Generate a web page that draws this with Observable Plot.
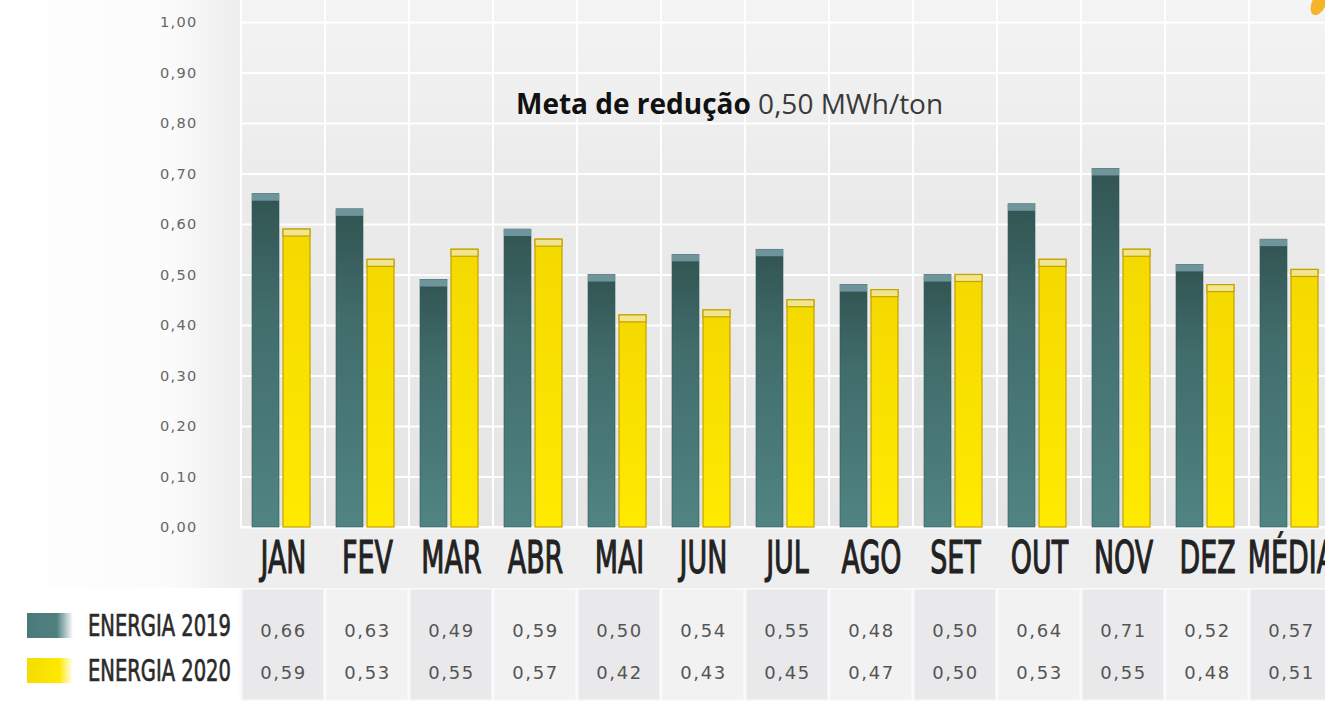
<!DOCTYPE html>
<html>
<head>
<meta charset="utf-8">
<script src="https://cdn.jsdelivr.net/npm/d3@7"></script>
<script src="https://cdn.jsdelivr.net/npm/@observablehq/plot@0.6"></script>
<style>
  html, body { margin: 0; padding: 0; background: #ffffff; }
  #wrap { position: relative; width: 1325px; height: 701px; overflow: hidden; background: #ffffff; }
  #chart svg { display: block; max-width: none !important; background: linear-gradient(to right, #ffffff 0px, #fbfbfb 170px, #eeeeee 235px); }
  #table svg { display: block; max-width: none !important; background: #ffffff; }
  #chart g[aria-label="y-axis tick label"] { letter-spacing: 1.3px; }
  #table g[aria-label="text"] { letter-spacing: 1.6px; }
  .note { position: absolute; left: 516px; top: 84px; font-family: "Open Sans", "Noto Sans", sans-serif; font-size: 28px; color: #3a3a3a; white-space: nowrap; }
  .note b { color: #111; font-weight: 700; }
  .legend { position: absolute; left: 27px; top: 0; font-family: "Liberation Sans Narrow", "DejaVu Sans Condensed", sans-serif; }
  .legend .row { position: absolute; left: 0; width: 240px; height: 26px; }
  .legend .sw { position: absolute; left: 0; top: 0; width: 46px; height: 25px; }
  .legend .lab { position: absolute; left: 61px; top: -6px; font-size: 31px; color: #2a2a2a; -webkit-text-stroke: 0.7px #2a2a2a; transform: scaleX(0.70); transform-origin: 0 0; white-space: nowrap; }
  .blob { position: absolute; left: 1312px; top: -10px; width: 14px; height: 26px; background: #f6b42a; border-radius: 50%; transform: rotate(25deg); }
</style>
</head>
<body>
<svg width="0" height="0" style="position:absolute">
  <defs>
    <linearGradient id="tileGrad" x1="0" y1="0" x2="0" y2="1">
      <stop offset="0" stop-color="#f4f4f4"/>
      <stop offset="0.35" stop-color="#ebebeb"/>
      <stop offset="1" stop-color="#e5e5e5"/>
    </linearGradient>
    <linearGradient id="tealGrad" x1="0" y1="0" x2="0" y2="1">
      <stop offset="0" stop-color="#315452"/>
      <stop offset="0.35" stop-color="#416d6b"/>
      <stop offset="1" stop-color="#508482"/>
    </linearGradient>
    <linearGradient id="yellowGrad" x1="0" y1="0" x2="0" y2="1">
      <stop offset="0" stop-color="#f4d900"/>
      <stop offset="1" stop-color="#ffea00"/>
    </linearGradient>
  </defs>
</svg>
<div id="wrap">
  <div id="chart"></div>
  <div id="table"></div>
  <div class="note"><b>Meta de redução</b> 0,50 MWh/ton</div>
  <div class="legend">
    <div class="row" style="top:613px"><div class="sw" style="background:linear-gradient(to right,#4a7a78 0%,#4f8080 65%,#ffffff 100%)"></div><div class="lab">ENERGIA 2019</div></div>
    <div class="row" style="top:658px"><div class="sw" style="background:linear-gradient(to right,#f3dc00 0%,#ffe800 70%,#ffffff 100%)"></div><div class="lab">ENERGIA 2020</div></div>
  </div>
  <div class="blob"></div>
</div>
<script>
const months = ["JAN","FEV","MAR","ABR","MAI","JUN","JUL","AGO","SET","OUT","NOV","DEZ","MÉDIA"];
const energia2019 = [0.66,0.63,0.49,0.59,0.50,0.54,0.55,0.48,0.50,0.64,0.71,0.52,0.57];
const energia2020 = [0.59,0.53,0.55,0.57,0.42,0.43,0.45,0.47,0.50,0.53,0.55,0.48,0.51];
const seriesLabels = ["ENERGIA 2019","ENERGIA 2020"];
const yTicks = [0,0.1,0.2,0.3,0.4,0.5,0.6,0.7,0.8,0.9,1.0];

const fmt = d => d.toFixed(2).replace(".", ",");
const rows2019 = months.map((m, i) => ({month: m, series: seriesLabels[0], value: energia2019[i]}));
const rows2020 = months.map((m, i) => ({month: m, series: seriesLabels[1], value: energia2020[i]}));
const numFont = "'DejaVu Sans', sans-serif";
const condFont = "'Liberation Sans Narrow', 'DejaVu Sans Condensed', sans-serif";

const chart = Plot.plot({
  width: 1345, height: 588,
  marginLeft: 241, marginRight: 12, marginTop: 22, marginBottom: 61,
  x: {domain: months, padding: 0},
  y: {domain: [0, 1]},
  marks: [
    Plot.barY(months, {x: d => d, y1: 0, y2: 1.05, fill: "url(#tileGrad)", stroke: "#ffffff", strokeWidth: 2}),
    Plot.ruleY(yTicks, {stroke: "#ffffff", strokeWidth: 2}),
    Plot.barY(rows2019, {x: "month", y: "value", insetLeft: 11, insetRight: 46, fill: "url(#tealGrad)", stroke: "#34585a", strokeWidth: 0.6}),
    Plot.barY(rows2019, {x: "month", y1: "value", y2: "value", insetBottom: -7, insetLeft: 11, insetRight: 46, fill: "#6f959c"}),
    Plot.barY(rows2020, {x: "month", y: "value", insetLeft: 42, insetRight: 15, fill: "url(#yellowGrad)", stroke: "#c4a200", strokeWidth: 1.2}),
    Plot.barY(rows2020, {x: "month", y1: "value", y2: "value", insetBottom: -7, insetLeft: 42, insetRight: 15, fill: "#f1e68e", stroke: "#c4a200", strokeWidth: 1.2}),
    Plot.axisY({ticks: yTicks, tickFormat: fmt, tickSize: 0, tickPadding: 44, fontSize: 14.5, fontFamily: numFont, fill: "#666666", label: null}),
    Plot.axisX({tickSize: 0, tickPadding: 14, fontSize: 44, fontFamily: condFont, fill: "#222222", label: null})
  ]
});
document.getElementById("chart").appendChild(chart);
d3.select(chart).selectAll('g[aria-label="x-axis tick label"] text').each(function() {
  const t = this.getAttribute("transform") || "";
  this.setAttribute("transform", t + " scale(0.68,1)");
  this.setAttribute("stroke", "#222222");
  this.setAttribute("stroke-width", "1.1");
});

const table = Plot.plot({
  width: 1345, height: 113,
  marginLeft: 241, marginRight: 12, marginTop: 22, marginBottom: 7,
  x: {type: "band", domain: months, padding: 0, axis: null},
  y: {type: "band", domain: seriesLabels, padding: 0, axis: null},
  marks: [
    Plot.cell(months, {x: d => d, fill: (d, i) => i % 2 === 0 ? "#e9e9eb" : "#f2f2f2", stroke: "#fafafa", strokeWidth: 3, insetTop: -22, insetBottom: -7}),
    Plot.text(rows2019.concat(rows2020), {x: "month", y: "series", text: d => fmt(d.value), fontSize: 18, fontFamily: numFont, fill: "#555555"})
  ]
});
document.getElementById("table").appendChild(table);
</script>
</body>
</html>
